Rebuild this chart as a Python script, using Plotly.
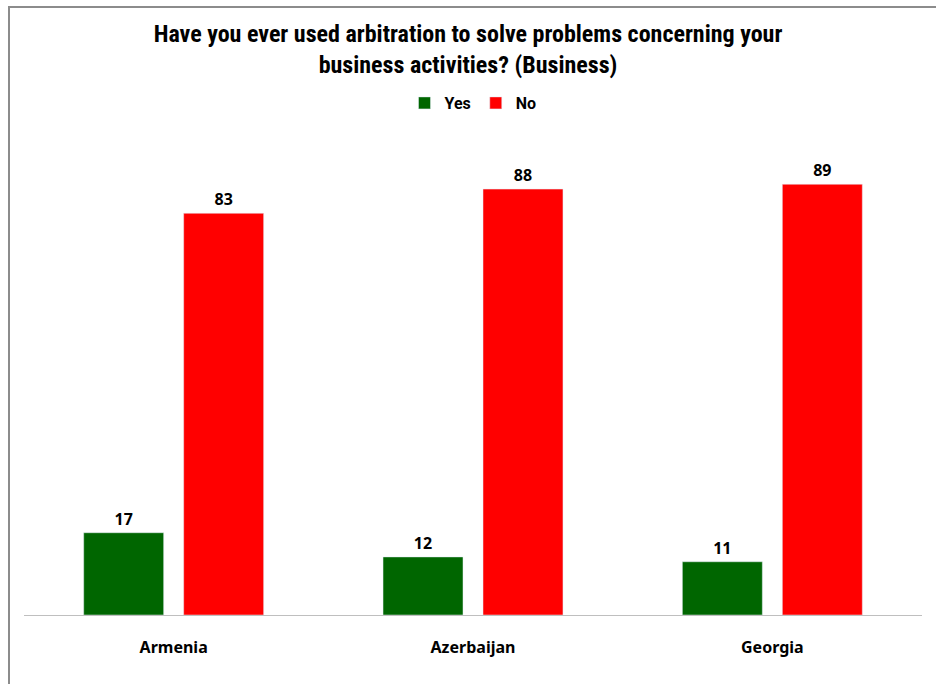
import plotly.graph_objects as go

countries = ["Armenia", "Azerbaijan", "Georgia"]
yes_vals = [17, 12, 11]
no_vals = [83, 88, 89]

L, R, T, B = 24, 14, 131, 69
W, H = 936, 684
pw, ph = W - L - R, H - T - B

lab_font = dict(size=16, color="#000000", family="Noto Sans", weight="bold")

fig = go.Figure()
fig.add_trace(go.Bar(name="Yes", x=countries, y=yes_vals, marker_color="#006600",
                     text=yes_vals, textposition="outside", cliponaxis=False,
                     textfont=lab_font))
fig.add_trace(go.Bar(name="No", x=countries, y=no_vals, marker_color="#FF0000",
                     text=no_vals, textposition="outside", cliponaxis=False,
                     textfont=lab_font))

fig.update_layout(
    width=W, height=H,
    margin=dict(l=L, r=R, t=T, b=B),
    paper_bgcolor="white", plot_bgcolor="white",
    barmode="group", bargap=0.332, bargroupgap=0.2,
    title=dict(text="Have you ever used arbitration to solve problems concerning your<br>business activities? (Business)",
               x=0.5, xanchor="center", y=1 - 42 / H, yanchor="middle",
               font=dict(size=24, color="#000000", family="Liberation Sans Narrow, Roboto Condensed, Roboto", weight="bold")),
    legend=dict(orientation="h", x=0.5, xanchor="center", y=1 + (T - 103) / ph, yanchor="middle",
                font=dict(size=16, color="#000000", family="Liberation Sans Narrow, Roboto", weight="bold"),
                itemwidth=30, traceorder="normal"),
    xaxis=dict(showline=True, linecolor="#BFBFBF", linewidth=1, ticks="",
               tickfont=dict(size=16, color="#000000", family="Noto Sans", weight="bold"),
               ticklabelstandoff=18),
    yaxis=dict(range=[0, 100], visible=False, showgrid=False),
    font=dict(family="Noto Sans"),
)

# outer chart border (top and left visible in the reference)
fig.add_shape(type="rect", xref="paper", yref="paper",
              x0=(9 - L) / pw, x1=(W + 20 - L) / pw,
              y0=(615 - H - 20) / ph, y1=(615 - 7) / ph,
              line=dict(color="#8C8C8C", width=2), fillcolor="rgba(0,0,0,0)", layer="below")

fig.write_html("out.html")
